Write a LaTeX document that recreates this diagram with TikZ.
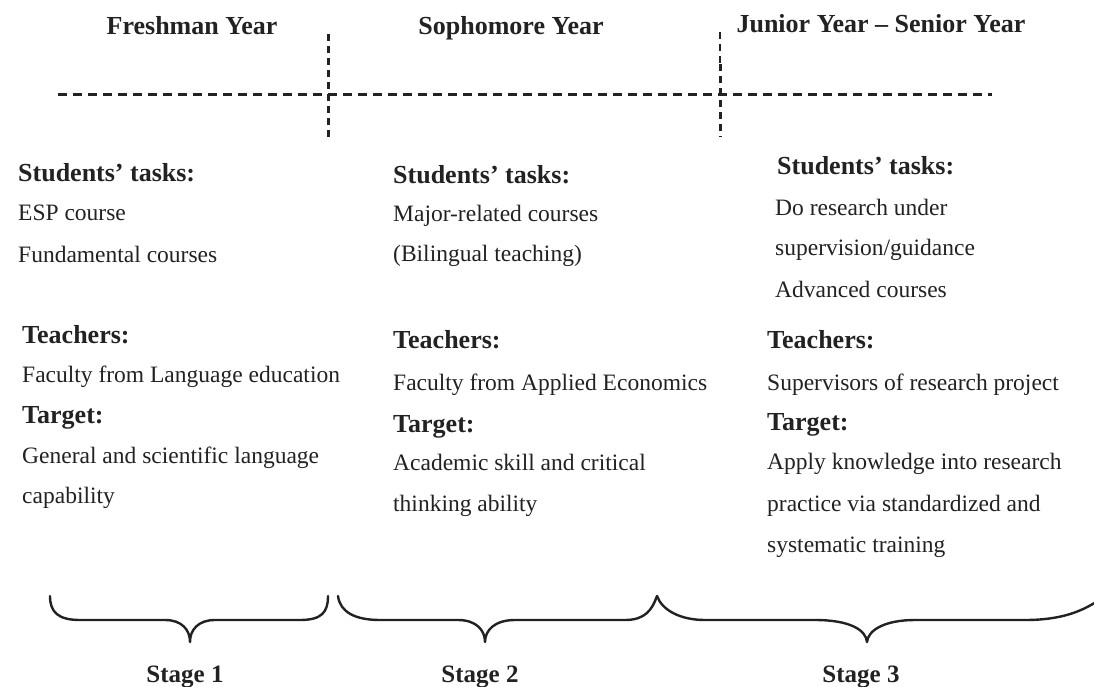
\documentclass[tikz,border=0pt]{standalone}
\usepackage{fontspec}
\setmainfont{Liberation Serif}
\definecolor{ink}{HTML}{222222}
\begin{document}
\begin{tikzpicture}[x=1pt,y=-1pt,
  hdr/.style={anchor=base,inner sep=0pt,text=ink,font=\fontsize{26}{30}\selectfont\bfseries},
  lbl/.style={anchor=base west,inner sep=0pt,text=ink,font=\fontsize{26}{30}\selectfont\bfseries},
  body/.style={anchor=base west,inner sep=0pt,text=ink,font=\fontsize{23.5}{28}\selectfont},
  stg/.style={anchor=base,inner sep=0pt,text=ink,font=\fontsize{25}{30}\selectfont\bfseries},
  hdash/.style={draw=ink,line width=3pt,dash pattern=on 9pt off 6pt},
  vdash/.style={draw=ink,line width=3pt,dash pattern=on 7pt off 5pt},
  vthin/.style={draw=ink,line width=1.4pt,dash pattern=on 7pt off 5pt},
  bracepath/.style={draw=ink,line width=2.4pt,line cap=round,line join=round}]
\useasboundingbox[fill=white] (0,0) rectangle (1094,687);

% headers
\node[hdr] (h1) at (192,35) {Freshman Year};
\node[hdr] (h2) at (511,35) {Sophomore Year};
\node[hdr] (h3) at (881,33) {Junior Year -- Senior Year};

% dashed timeline
\coordinate (tl) at (58,95);
\coordinate (tr) at (992,95);
\coordinate (v1t) at (328,34);
\coordinate (v1b) at (328,137);
\coordinate (v2t) at (720,32);
\coordinate (v2m) at (720,64);
\coordinate (v2b) at (720,137);
\draw[hdash] (tl) -- (tr);
\draw[vdash] (v1t) -- (v1b);
\draw[vthin] (v2t) -- (v2m);
\draw[vdash] (v2m) -- (v2b);

% column 1
\node[lbl]  (s1)  at (18,182) {Students’ tasks:};
\node[body] (s1a) at (18,220) {ESP course};
\node[body] (s1b) at (18,262) {Fundamental courses};
\node[lbl]  (t1)  at (22,343) {Teachers:};
\node[body] (t1a) at (22,382) {Faculty from Language education};
\node[lbl]  (g1)  at (22,423) {Target:};
\node[body] (g1a) at (22,463) {General and scientific language};
\node[body] (g1b) at (22,503) {capability};

% column 2
\node[lbl]  (s2)  at (393,183) {Students’ tasks:};
\node[body] (s2a) at (393,221) {Major-related courses};
\node[body] (s2b) at (393,261) {(Bilingual teaching)};
\node[lbl]  (t2)  at (393,348) {Teachers:};
\node[body] (t2a) at (393,390) {Faculty from Applied Economics};
\node[lbl]  (g2)  at (393,432) {Target:};
\node[body] (g2a) at (393,470) {Academic skill and critical};
\node[body] (g2b) at (393,511) {thinking ability};

% column 3
\node[lbl]  (s3)  at (777,175) {Students’ tasks:};
\node[body] (s3a) at (775,215) {Do research under};
\node[body] (s3b) at (775,255) {supervision/guidance};
\node[body] (s3c) at (775,297) {Advanced courses};
\node[lbl]  (t3)  at (767,348) {Teachers:};
\node[body] (t3a) at (767,390) {Supervisors of research project};
\node[lbl]  (g3)  at (767,430) {Target:};
\node[body] (g3a) at (767,469) {Apply knowledge into research};
\node[body] (g3b) at (767,511) {practice via standardized and};
\node[body] (g3c) at (767,552) {systematic training};

% braces
\draw[bracepath] (50,596) .. controls (50,612) and (58,620) .. (80,620) -- (165,620)
  .. controls (182,620) and (190,630) .. (190,642)
  .. controls (190,630) and (198,620) .. (215,620) -- (300,620)
  .. controls (322,620) and (328,612) .. (328,596);
\draw[bracepath] (338,596) .. controls (340,612) and (355,620) .. (380,620) -- (458,620)
  .. controls (476,620) and (485,630) .. (485,642)
  .. controls (485,630) and (495,620) .. (515,620) -- (625,620)
  .. controls (645,620) and (652,610) .. (657,596);
\draw[bracepath] (657,596) .. controls (662,610) and (680,620) .. (705,620) -- (815,620)
  .. controls (850,620) and (866,630) .. (867,642)
  .. controls (868,630) and (885,620) .. (915,620) -- (1025,620)
  .. controls (1060,620) and (1080,612) .. (1096,602);

% stage labels
\node[stg] (st1) at (185,682) {Stage 1};
\node[stg] (st2) at (480,682) {Stage 2};
\node[stg] (st3) at (861,682) {Stage 3};
\end{tikzpicture}
\end{document}
